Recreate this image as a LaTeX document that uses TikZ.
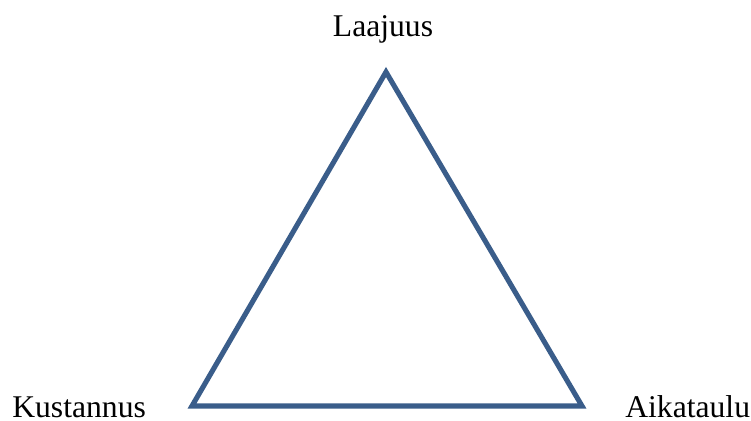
\documentclass[tikz,border=0pt]{standalone}
\usepackage{fontspec}
\setmainfont{Liberation Serif}
\definecolor{triblue}{RGB}{58,93,138}
\tikzset{
  trside/.style={line width=2.9pt, draw=triblue, line join=miter},
  trlabel/.style={inner sep=0pt, font=\fontsize{18}{20}\selectfont},
}

\begin{document}
\begin{tikzpicture}[x=0.02cm, y=-0.02cm]
\useasboundingbox (0,0) rectangle (751,421);
\coordinate (top) at (386,72);
\coordinate (left) at (192,406);
\coordinate (right) at (582,406);
\draw[trside] (top) -- (left) -- (right) -- cycle;
\node[trlabel, anchor=base] (laajuus) at (383,37) {Laajuus};
\node[trlabel, anchor=base west] (kustannus) at (12,418) {Kustannus};
\node[trlabel, anchor=base west] (aikataulu) at (625,418) {Aikataulu};
\end{tikzpicture}
\end{document}
